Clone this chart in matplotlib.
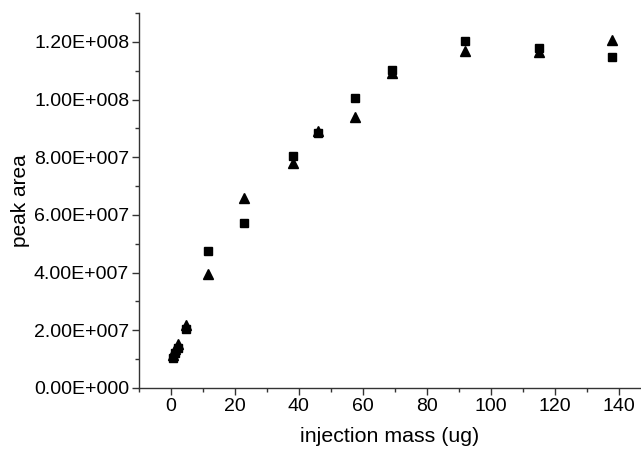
import matplotlib
matplotlib.use('Agg')
import matplotlib.pyplot as plt
from matplotlib.ticker import MultipleLocator, FuncFormatter
import math

# injection mass (ug)
mass = [0.575, 1.15, 2.3, 4.6, 11.5, 23, 38.3, 46, 57.5, 69, 92, 115, 138]
# peak area, two replicate series
area_sq = [1.05e7, 1.20e7, 1.38e7, 2.05e7, 4.74e7, 5.73e7, 8.05e7, 8.84e7,
           1.004e8, 1.103e8, 1.203e8, 1.177e8, 1.146e8]
area_tri = [1.15e7, 1.35e7, 1.53e7, 2.17e7, 3.94e7, 6.57e7, 7.81e7, 8.90e7,
            9.40e7, 1.093e8, 1.168e8, 1.164e8, 1.207e8]

plt.rcParams['font.family'] = ['Liberation Sans', 'DejaVu Sans']


def sci_fmt(v, pos):
    if v == 0:
        return '0.00E+000'
    e = int(math.floor(math.log10(abs(v))))
    return f'{v / 10**e:.2f}E+{e:03d}'


fig = plt.figure(figsize=(6.41, 4.5), dpi=100)
ax = fig.add_axes([0.2168, 0.1378, 0.7832, 0.8333])

ax.plot(mass, area_sq, linestyle='none', marker='s', ms=5.2, color='black')
ax.plot(mass, area_tri, linestyle='none', marker='^', ms=6.8, color='black')

ax.set_xlim(-10, 147)
ax.set_ylim(0, 1.3e8)
ax.xaxis.set_major_locator(MultipleLocator(20))
ax.xaxis.set_minor_locator(MultipleLocator(10))
ax.yaxis.set_major_locator(MultipleLocator(2e7))
ax.yaxis.set_minor_locator(MultipleLocator(1e7))
ax.yaxis.set_major_formatter(FuncFormatter(sci_fmt))

for s in ['top', 'right']:
    ax.spines[s].set_visible(False)
for s in ['left', 'bottom']:
    ax.spines[s].set_color('#333333')
    ax.spines[s].set_linewidth(1.0)

ax.tick_params(which='major', direction='out', length=5, width=1, color='#333333',
               labelsize=14, pad=2)
ax.tick_params(which='minor', direction='out', length=3, width=1, color='#333333')

ax.set_xlabel('injection mass (ug)', fontsize=15.4, labelpad=9)
ax.set_ylabel('peak area', fontsize=15, labelpad=3)

fig.savefig('out.png', dpi=100)
